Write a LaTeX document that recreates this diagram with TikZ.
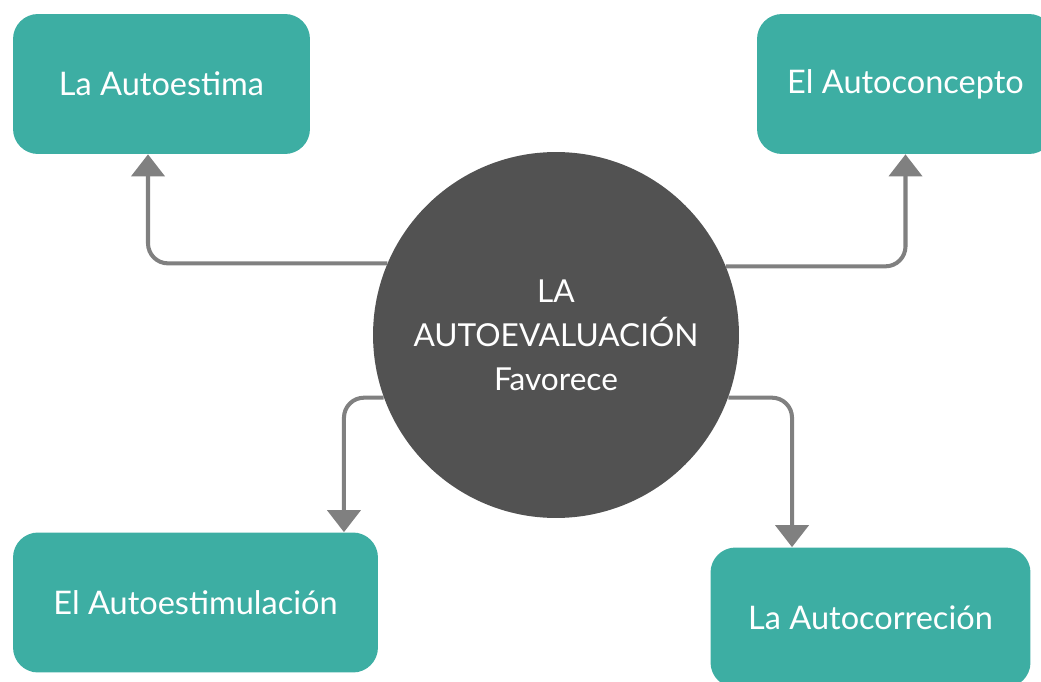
\documentclass[tikz,border=0pt]{standalone}
\usepackage{fontspec}
\setmainfont{Lato}
\usetikzlibrary{arrows.meta}
\definecolor{tealbox}{HTML}{3DAEA3}
\definecolor{darkcirc}{HTML}{525252}
\definecolor{linkgray}{HTML}{808080}
\tikzset{
  topic/.style={fill=tealbox, rounded corners=0.5cm, text=white,
    minimum width=5.94cm, minimum height=2.8cm, font=\fontsize{18.5}{22}\selectfont},
  core/.style={circle, fill=darkcirc, text=white, minimum size=7.32cm,
    align=center, font=\fontsize{18}{25}\selectfont},
  link/.style={draw=linkgray, line width=2.3pt, rounded corners=0.4cm,
    -{Triangle[width=0.66cm, length=0.44cm]}}
}
\begin{document}
\begin{tikzpicture}[x=0.02cm, y=-0.02cm]
  \useasboundingbox (0,0) rectangle (1041,682);
  \node[core] (eval) at (556,335) {LA\\AUTOEVALUACIÓN\\Favorece};
  \node[topic] (estima) at (161.5,84) {La Autoestima};
  \node[topic] (concepto) at (905.5,84) {El Autoconcepto};
  \node[topic, minimum width=7.3cm] (estimul) at (195.5,602.5) {El Autoestimulación};
  \node[topic, minimum width=6.4cm] (correc) at (870.5,617.5) {La Autocorreción};
  \begin{scope}[link]
    \draw (eval.157.2) -| ([xshift=-0.27cm]estima.south);
    \draw (eval.22.8) -| (concepto.south);
    \draw (eval.200.1) -| ([xshift=2.97cm]estimul.north);
    \draw (eval.-20.1) -| ([xshift=-1.57cm]correc.north);
  \end{scope}
\end{tikzpicture}
\end{document}
